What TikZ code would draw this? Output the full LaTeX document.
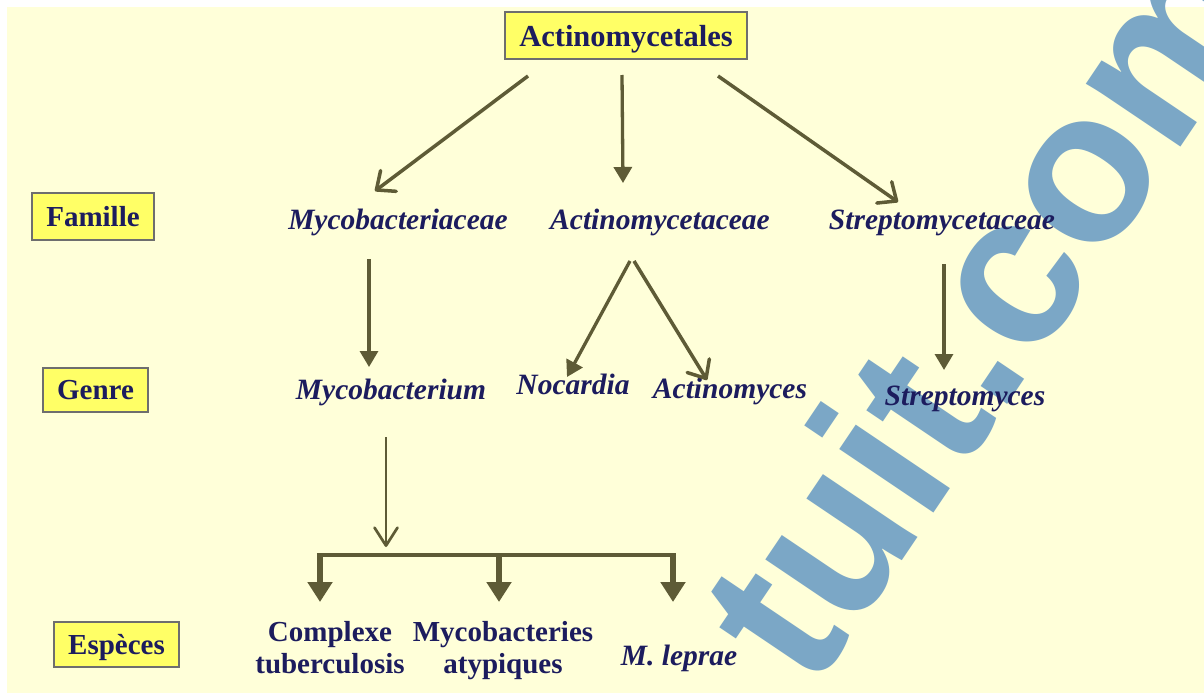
\documentclass[tikz,border=0pt]{standalone}
\usepackage{fontspec}
\setmainfont{Liberation Serif}
\newfontfamily\wmfont{Liberation Sans}
\usetikzlibrary{arrows.meta,calc}
\definecolor{bgyel}{HTML}{FFFFD9}
\definecolor{boxyel}{HTML}{FFFF66}
\definecolor{boxline}{HTML}{6E6E6E}
\definecolor{navy}{HTML}{1C1C5E}
\definecolor{olive}{HTML}{5E5B36}
\definecolor{wmblue}{HTML}{7BA7C6}
\tikzset{
  levelbox/.style={draw=boxline, line width=1.5pt, fill=boxyel, text=navy,
    font=\fontsize{29}{32}\selectfont\bfseries, inner sep=0pt, text depth=0pt},
  taxon/.style={text=navy, font=\fontsize{29.5}{32}\selectfont\bfseries\itshape, inner sep=0pt, anchor=base},
  species/.style={text=navy, font=\fontsize{29}{32}\selectfont\bfseries, inner sep=0pt, align=center},
  openarrow/.style={draw=olive, line width=3.5pt, -{Straight Barb[length=15pt,width=26pt,round]}},
  thinopen/.style={draw=olive, line width=2.7pt, -{Straight Barb[length=18pt,width=23pt,round]}},
  fillarrow/.style={draw=olive, line width=3.3pt, -{Triangle[length=16pt,width=18pt]}},
  droparrow/.style={draw=olive, line width=6.5pt, -{Triangle[length=20pt,width=24pt]}},
  barline/.style={draw=olive, line width=4pt}
}
\begin{document}
\begin{tikzpicture}[x=1pt,y=-1pt]
\useasboundingbox (0,0) rectangle (1204,693);
\fill[white] (0,0) rectangle (1204,693);
\fill[bgyel] (7,7) rectangle (1204,693);

% watermark
\node[text=wmblue, font=\wmfont\fontsize{215}{215}\selectfont\bfseries, rotate=56, anchor=base west, inner sep=0pt] (wm) at (812,694) {tuit.com};

% title box
\node[levelbox, minimum width=242pt, minimum height=47pt, font=\fontsize{30.5}{32}\selectfont\bfseries] (act) at (626,35.5) {Actinomycetales};

% level boxes
\node[levelbox, minimum width=122pt, minimum height=47pt] (fam) at (93,216.5) {Famille};
\node[levelbox, minimum width=105pt, minimum height=44pt] (gen) at (95.5,390) {Genre};
\node[levelbox, minimum width=125pt, minimum height=45pt] (esp) at (116.5,644.5) {Espèces};

% families
\node[taxon] (mcf) at (398,229) {Mycobacteriaceae};
\node[taxon] (acf) at (660,229) {Actinomycetaceae};
\node[taxon] (scf) at (942,229) {Streptomycetaceae};

% genera
\node[taxon] (mcg) at (391,399) {Mycobacterium};
\node[taxon] (noc) at (573,394) {Nocardia};
\node[taxon] (acg) at (730,398) {Actinomyces};
\node[taxon] (stg) at (965,405) {Streptomyces};

% species
\node[species, anchor=north] (cx) at (330,621) {Complexe\\tuberculosis};
\node[species, anchor=north] (ma) at (503,621) {Mycobacteries\\atypiques};
\node[taxon] (ml) at (679,665) {M. leprae};

% arrows from order
\draw[openarrow] ($(act.center)+(-98,40.5)$) -- ($(mcf.base)+(-23,-38)$);
\draw[fillarrow] ($(act.center)+(-4,39.5)$) -- ($(acf.base)+(-37,-46)$);
\draw[openarrow] ($(act.center)+(92,40.5)$) -- ($(scf.base)+(-44,-27)$);

% family to genus
\draw[fillarrow] ($(mcf.base)+(-29,30)$) -- ($(mcg.base)+(-22,-32)$);
\draw[fillarrow] ($(acf.base)+(-30,32)$) -- ($(noc.base)+(-6,-17)$);
\draw[openarrow] ($(acf.base)+(-26,32)$) -- ($(acg.base)+(-23,-18)$);
\draw[fillarrow] ($(scf.base)+(2,35)$) -- ($(stg.base)+(-21,-35)$);

% genus to species
\coordinate (bl) at (320,555);
\coordinate (bm) at (499,555);
\coordinate (br) at (673,555);
\coordinate (jn) at (386,555);
\draw[thinopen] ($(mcg.base)+(-5,38)$) -- ([yshift=8pt]jn);
\draw[barline] ([xshift=-3.25pt]bl) -- ([xshift=3.25pt]br);
\draw[droparrow] ([yshift=2pt]bl) -- ($(cx.north)+(-10,-19)$);
\draw[droparrow] ([yshift=2pt]bm) -- ($(ma.north)+(-4,-19)$);
\draw[droparrow] ([yshift=2pt]br) -- ($(ml.base)+(-6,-63)$);
\end{tikzpicture}
\end{document}
